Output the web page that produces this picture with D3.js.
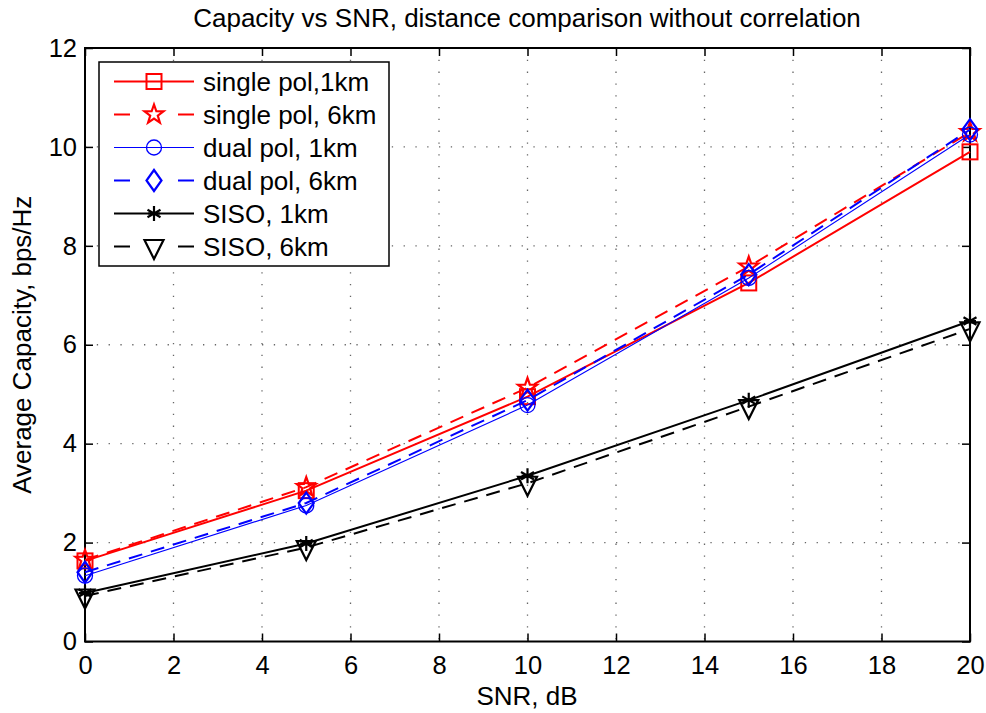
<!DOCTYPE html>
<html><head><meta charset="utf-8">
<script src="https://cdn.jsdelivr.net/npm/d3@7"></script>
<style>body{margin:0;background:#fff}svg{display:block}text{font-family:"Liberation Sans",Arial,sans-serif}</style>
</head><body><svg id="c" width="986" height="713"></svg>
<script>
const snr = [0, 5, 10, 15, 20];
const singlePol1km = [1.63, 3.05, 4.95, 7.25, 9.9];
const singlePol6km = [1.65, 3.12, 5.13, 7.58, 10.3];
const dualPol1km = [1.33, 2.75, 4.78, 7.35, 10.25];
const dualPol6km = [1.40, 2.80, 4.88, 7.42, 10.35];
const siso1km = [0.98, 1.98, 3.35, 4.88, 6.48];
const siso6km = [0.92, 1.90, 3.20, 4.75, 6.32];
const xTicks = [0,2,4,6,8,10,12,14,16,18,20];
const yTicks = [0,2,4,6,8,10,12];
const names = ["single pol,1km","single pol, 6km","dual pol, 1km","dual pol, 6km","SISO, 1km","SISO, 6km"];

const series = [
  {name:names[0], v:singlePol1km, color:"#ff0000", dash:null, w:2, marker:"square"},
  {name:names[1], v:singlePol6km, color:"#ff0000", dash:"14,9", w:2, marker:"star"},
  {name:names[2], v:dualPol1km, color:"#0000ff", dash:null, w:1.1, marker:"circle"},
  {name:names[3], v:dualPol6km, color:"#0000ff", dash:"14,9", w:2, marker:"diamond"},
  {name:names[4], v:siso1km, color:"#000000", dash:null, w:2, marker:"asterisk"},
  {name:names[5], v:siso6km, color:"#000000", dash:"14,9", w:2, marker:"triangle"}
];

const svg = d3.select("#c");
const L=85, R=970, T=48, B=641.5;
const x = d3.scaleLinear().domain([0,20]).range([L,R]);
const y = d3.scaleLinear().domain([0,12]).range([B,T]);

// grid
const g = svg.append("g");
g.selectAll(".gx").data(xTicks.slice(1,-1)).enter().append("line")
  .attr("x1",d=>x(d)).attr("x2",d=>x(d)).attr("y1",T).attr("y2",B)
  .attr("stroke","#666").attr("stroke-width",1.3).attr("stroke-dasharray","1.3,10.5");
g.selectAll(".gy").data(yTicks.slice(1,-1)).enter().append("line")
  .attr("y1",d=>y(d)).attr("y2",d=>y(d)).attr("x1",L).attr("x2",R)
  .attr("stroke","#666").attr("stroke-width",1.3).attr("stroke-dasharray","1.3,10.5");

// axes
const fs = 25.5;
const xa = svg.append("g").attr("transform",`translate(0,${B})`)
  .call(d3.axisBottom(x).tickValues(xTicks).tickSize(-8).tickPadding(10).tickFormat(d3.format("d")));
const xt = svg.append("g").attr("transform",`translate(0,${T})`)
  .call(d3.axisTop(x).tickValues(xTicks).tickSize(-8).tickFormat(""));
const ya = svg.append("g").attr("transform",`translate(${L},0)`)
  .call(d3.axisLeft(y).tickValues(yTicks).tickSize(-8).tickPadding(8).tickFormat(d3.format("d")));
const yr = svg.append("g").attr("transform",`translate(${R},0)`)
  .call(d3.axisRight(y).tickValues(yTicks).tickSize(-8).tickFormat(""));
[xa,xt,ya,yr].forEach(a=>{
  a.select(".domain").remove();
  a.selectAll("line").attr("stroke","#000").attr("stroke-width",1.5);
  a.selectAll("text").attr("font-size",fs).attr("fill","#000").style("font-family",'"Liberation Sans",Arial,sans-serif');
});
xa.selectAll("text").attr("dy",null).attr("y",null).attr("transform","translate(0,32.5)");
svg.append("rect").attr("x",L).attr("y",T).attr("width",R-L).attr("height",B-T)
  .attr("fill","none").attr("stroke","#000").attr("stroke-width",2);

function drawMarker(sel, type, color, cx, cy){
  const s = 7.5;
  const gm = sel.append("g").attr("transform",`translate(${cx},${cy})`);
  const st = {fill:"none", stroke:color, "stroke-width":2};
  let el;
  if(type==="square"){ el=gm.append("rect").attr("x",-s).attr("y",-s).attr("width",2*s).attr("height",2*s); }
  else if(type==="circle"){ el=gm.append("circle").attr("r",s); st["stroke-width"]=1.3; }
  else if(type==="diamond"){ el=gm.append("path").attr("d",`M0,${-s-3}L${s},0L0,${s+3}L${-s},0Z`); st["stroke-width"]=2.2; }
  else if(type==="triangle"){ el=gm.append("path").attr("d",`M${-s-2},${-s+1}L${s+2},${-s+1}L0,${s+5}Z`); st["stroke-width"]=2.2; }
  else if(type==="star"){
    const pts=[]; for(let i=0;i<10;i++){const r=i%2?4:10; const a=-Math.PI/2+i*Math.PI/5; pts.push([r*Math.cos(a),r*Math.sin(a)]);}
    el=gm.append("path").attr("d","M"+pts.map(p=>p.join(",")).join("L")+"Z"); st["stroke-width"]=2.2;
  }
  else if(type==="asterisk"){
    const r=7.5; let d="";
    [0,60,120].forEach(a=>{const t=a*Math.PI/180; d+=`M${-r*Math.sin(t)},${-r*Math.cos(t)}L${r*Math.sin(t)},${r*Math.cos(t)}`;});
    d+=`M${-r*0.8},0L${r*0.8},0`;
    el=gm.append("path").attr("d",d); st["stroke-width"]=2.2;
  }
  Object.entries(st).forEach(([k,v])=>el.attr(k,v));
}

const line = d3.line().x((d,i)=>x(snr[i])).y(d=>y(d));
series.forEach(s=>{
  svg.append("path").datum(s.v).attr("d",line).attr("fill","none")
    .attr("stroke",s.color).attr("stroke-width",s.w).attr("stroke-dasharray",s.dash);
  s.v.forEach((v,i)=>drawMarker(svg,s.marker,s.color,x(snr[i]),y(v)));
});

// legend
const lg = svg.append("g");
lg.append("rect").attr("x",99).attr("y",62).attr("width",290).attr("height",204)
  .attr("fill","#fff").attr("stroke","#000").attr("stroke-width",1.5);
series.forEach((s,i)=>{
  const yy = 81.5 + i*33;
  lg.append("line").attr("x1",114).attr("x2",194).attr("y1",yy).attr("y2",yy)
    .attr("stroke",s.color).attr("stroke-width",s.w).attr("stroke-dasharray",s.dash?"16,48":null);
  drawMarker(lg,s.marker,s.color,154,yy);
  lg.append("text").attr("x",203).attr("y",yy+9).attr("font-size",26).attr("fill","#000").text(s.name);
});

// labels
svg.append("text").attr("x",527).attr("y",27).attr("text-anchor","middle").attr("font-size",26).text("Capacity vs SNR, distance comparison without correlation");
svg.append("text").attr("x",527).attr("y",705).attr("text-anchor","middle").attr("font-size",26).text("SNR, dB");
svg.append("text").attr("transform",`translate(31,${(T+B)/2}) rotate(-90)`).attr("text-anchor","middle").attr("font-size",26).text("Average Capacity, bps/Hz");
</script></body></html>
